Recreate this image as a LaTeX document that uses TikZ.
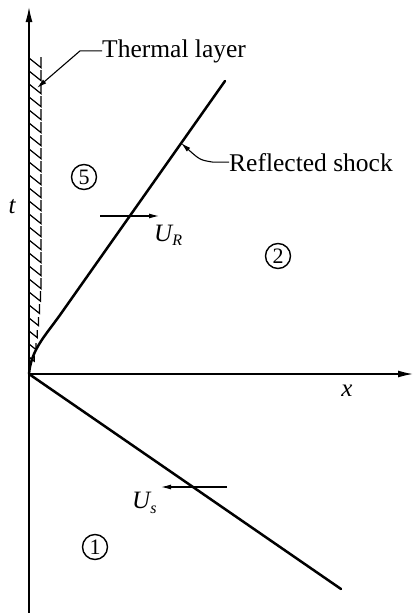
\documentclass[tikz,border=0pt]{standalone}
\usepackage{fontspec}
\setmainfont{Liberation Serif}
\usetikzlibrary{arrows.meta}
\begin{document}
\begin{tikzpicture}[x=1pt,y=-1pt,
  axis/.style={line width=1.4pt, -{Latex[length=15pt,width=7pt]}},
  shock/.style={line width=2.5pt, line cap=round},
  lead/.style={line width=1.1pt, -{Latex[length=10pt,width=5pt]}},
  vel/.style={line width=1.1pt, -{Latex[length=10pt,width=5pt]}},
  hatch/.style={line width=1.2pt},
  region/.style={draw, circle, line width=1.4pt, minimum size=25pt, inner sep=0pt, font=\fontsize{22}{22}\selectfont},
  lbl/.style={font=\fontsize{25.5}{25.5}\selectfont, inner sep=0pt},
  var/.style={font=\fontsize{25}{25}\selectfont\itshape, inner sep=0pt}]
\useasboundingbox (0,0) rectangle (414,613);
\coordinate (O) at (29,374);
\coordinate (ytop) at (29,7);
\coordinate (ybot) at (29,613);
\coordinate (xend) at (413,374);
% thermal layer hatching
\foreach \yy in {58,71,...,357} {
  \pgfmathsetmacro\ww{12*sqrt(min(1,(374-\yy)/90))}
  \draw[hatch] (29,\yy) -- ({29+\ww},{\yy+0.8*\ww}) -- ({29+\ww},{\yy-1});
}
% axes
\draw[axis] (ybot) -- (ytop);
\draw[axis] (O) -- (xend);
% shocks
\coordinate (rs1) at (60,315);
\coordinate (rsend) at (225,81);
\coordinate (isend) at (341,589);
\draw[shock] (O) .. controls (31,350) and (45,336) .. (rs1) -- (rsend);
\draw[shock] (O) -- (isend);
% velocity arrows
\coordinate (ura) at (100,216);
\coordinate (urb) at (159,216);
\coordinate (usa) at (227,487);
\coordinate (usb) at (161,487);
\draw[vel] (ura) -- (urb);
\draw[vel] (usa) -- (usb);
% labels
\node[lbl, anchor=base west] (thermal) at (102,57) {Thermal layer};
\node[lbl, anchor=base west] (reflected) at (229,171) {Reflected shock};
\coordinate (thtip) at (37,88);
\coordinate (rftip) at (181,143);
\draw[lead] (thermal.west) -- ++(-22,0) -- (thtip);
\draw[lead] (reflected.west) -- ++(-16,0) .. controls (200,160) .. (rftip);
\node[var] (tl) at (12,207) {t};
\node[var] (xl) at (347,391) {x};
\node[var, anchor=base west] (ur) at (154,241) {U\raisebox{-4pt}{\fontsize{16}{16}\selectfont R}};
\node[var, anchor=base west] (us) at (132,508) {U\raisebox{-5pt}{\fontsize{16}{16}\selectfont s}};
\node[region] (r5) at (84,177) {5};
\node[region] (r2) at (278,256) {2};
\node[region] (r1) at (95,547) {1};
\end{tikzpicture}
\end{document}
